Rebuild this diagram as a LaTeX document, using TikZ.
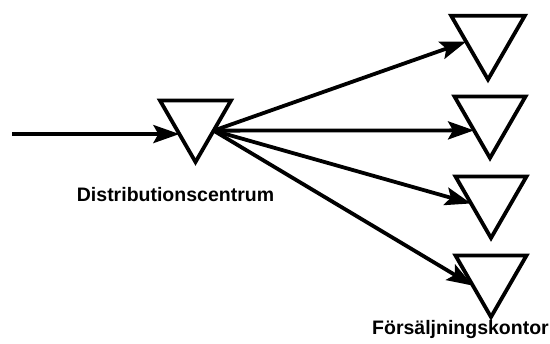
\documentclass[tikz,border=0pt]{standalone}
\usepackage{fontspec}
\setmainfont{Liberation Sans}
\usetikzlibrary{shapes.geometric,arrows.meta}
\begin{document}
\begin{tikzpicture}[x=1pt,y=-1pt,
  tri/.style={draw=black,line width=3.8pt,regular polygon,regular polygon sides=3,
    shape border rotate=180,minimum size=#1,inner sep=0pt,outer sep=0pt},
  arr/.style={line width=3.8pt,-{Stealth[length=26pt,width=18pt,inset=5pt]}},
  lbl/.style={font=\fontsize{19.5}{22}\selectfont\bfseries,anchor=base,inner sep=0pt}]
\useasboundingbox (0,0) rectangle (550,344);
\node[tri=82] (c) at (195.5,121) {};
\node[tri=85] (t1) at (488,37) {};
\node[tri=82] (t2) at (490,117) {};
\node[tri=82] (t3) at (491,197) {};
\node[tri=82] (t4) at (491,276) {};
\coordinate (in) at (12,134);
\draw[arr] (c.219 -| in) -- (c.219);
\draw[arr] (c.332) -- (t1.192);
\draw[arr] (c.332) -- (t2.220);
\draw[arr] (c.332) -- (t3.198);
\draw[arr] (c.332) -- (t4.208);
\node[lbl] (l1) at (175.5,202) {Distributionscentrum};
\node[lbl] (l2) at (460.5,335) {Försäljningskontor};
\end{tikzpicture}
\end{document}
